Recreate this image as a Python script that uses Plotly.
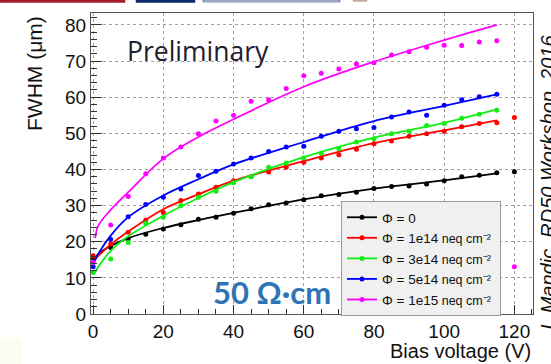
import plotly.graph_objects as go

# ---------------- data ----------------
volts = [0, 5, 10, 15, 20, 25, 30, 35, 40, 45, 50, 55, 60, 65, 70, 75,
         80, 85, 90, 95, 100, 105, 110, 115]

fwhm_phi0 = [15.6, 18.4, 20.8, 22.1, 23.5, 24.7, 26.2, 26.8, 27.9, 29.1, 30.2, 30.7,
             31.6, 32.7, 33.1, 33.7, 34.7, 35.3, 35.4, 36.0, 36.9, 38.0, 38.4, 39.1]
fwhm_1e14 = [16.1, 19.4, 22.6, 26.0, 28.1, 31.4, 33.2, 35.1, 36.9, 38.0, 39.3, 40.6,
             42.0, 43.2, 44.1, 45.6, 47.1, 47.9, 49.2, 49.9, 50.6, 51.8, 52.7, 52.9]
fwhm_3e14 = [11.5, 15.2, 19.8, 25.1, 26.8, 30.0, 32.3, 34.0, 36.3, 38.0, 40.6, 41.8,
             43.2, 44.5, 45.7, 47.6, 48.5, 49.9, 50.6, 52.2, 52.7, 54.2, 55.3, 56.4]
fwhm_5e14 = [13.1, 20.7, 26.9, 30.3, 32.3, 34.6, 38.3, 39.5, 41.5, 43.2, 45.0, 46.2,
             46.4, 49.2, 50.6, 51.3, 51.6, 54.5, 55.9, 55.0, 57.8, 59.3, 60.1, 60.8]
fwhm_1e15 = [14.3, 24.6, 32.5, 38.8, 43.2, 46.2, 49.9, 53.4, 55.0, 58.9, 59.3, 62.4,
             65.9, 66.6, 67.8, 69.2, 69.5, 71.7, 72.6, 73.8, 74.4, 74.3, 75.3, 75.6]

# extra points at 120 V
extra_v = [120]
extra_phi0 = [39.4]
extra_1e14 = [54.4]
extra_1e15 = [13.1]

# fit curves
fit_v = [0.5, 2, 5, 10, 20, 30, 40, 60, 80, 100, 115]
fit_phi0 = [15.5, 17.0, 18.8, 21.0, 23.8, 26.0, 28.0, 31.7, 34.7, 37.0, 38.9]
fit_1e14 = [15.3, 16.6, 19.2, 22.8, 29.0, 33.1, 36.9, 42.3, 47.3, 50.8, 53.6]
fit_3e14 = [11.5, 13.8, 17.5, 21.5, 27.2, 32.1, 36.5, 43.4, 48.8, 52.9, 56.6]
fit_5e14 = [14.7, 17.5, 21.7, 26.8, 32.8, 37.3, 41.4, 47.6, 53.4, 57.6, 60.8]
fit_v_1e15 = [0.6, 1.5, 5, 10, 20, 30, 40, 60, 80, 100, 115]
fit_1e15 = [21.0, 24.5, 28.8, 33.7, 43.0, 49.0, 53.9, 62.9, 69.8, 75.8, 80.0]

labels = ["Φ = 0",
          "Φ = 1e14<span style='font-size:12.5px'> neq cm⁻²</span>&nbsp;",
          "Φ = 3e14<span style='font-size:12.5px'> neq cm⁻²</span>&nbsp;",
          "Φ = 5e14<span style='font-size:12.5px'> neq cm⁻²</span>&nbsp;",
          "Φ = 1e15<span style='font-size:12.5px'> neq cm⁻²</span>&nbsp;"]
colors = ["#000000", "#ff0000", "#11ee11", "#0000ff", "#ff00ff"]

x_ticks = [0, 20, 40, 60, 80, 100, 120]
y_ticks = [0, 10, 20, 30, 40, 50, 60, 70, 80]

# ---------------- figure ----------------
W, H = 551, 364
L, R, T, B = 91, 533, 13, 314


def pxx(x):
    return (x - L) / (R - L)


def pxy(y):
    return (B - y) / (B - T)


series = [
    (volts, fwhm_phi0, extra_v, extra_phi0, fit_v, fit_phi0),
    (volts, fwhm_1e14, extra_v, extra_1e14, fit_v, fit_1e14),
    (volts, fwhm_3e14, [], [], fit_v, fit_3e14),
    (volts, fwhm_5e14, [], [], fit_v, fit_5e14),
    (volts, fwhm_1e15, extra_v, extra_1e15, fit_v_1e15, fit_1e15),
]

fig = go.Figure()
for (vx, vy, ex, ey, fx, fy), col in zip(series, colors):
    fig.add_trace(go.Scatter(x=fx, y=fy, mode="lines", line=dict(color=col, width=1.8, shape="spline"),
                             showlegend=False, hoverinfo="skip"))
    fig.add_trace(go.Scatter(x=list(vx) + list(ex), y=list(vy) + list(ey), mode="markers",
                             marker=dict(color=col, size=5), showlegend=False))

for lab, col in zip(labels, colors):
    fig.add_trace(go.Scatter(x=[None], y=[None], mode="lines+markers", name=lab,
                             line=dict(color=col, width=1.8), marker=dict(color=col, size=5)))

font_fam = "Liberation Sans, Arial, sans-serif"
axis_common = dict(showline=True, mirror=True, linecolor="#555555", linewidth=1.2,
                   ticks="inside", tickcolor="#333333", showgrid=True, gridcolor="#a0a0a0",
                   griddash="dot", gridwidth=1, zeroline=False, automargin=False,
                   tickfont=dict(family=font_fam, size=19, color="#111111"))

fig.update_layout(
    width=W, height=H,
    margin=dict(l=L, r=W - R, t=T, b=H - B, pad=0),
    paper_bgcolor="white", plot_bgcolor="white",
    xaxis=dict(range=[-0.6, 125.3], tickvals=x_ticks, ticklen=9, tickwidth=1,
               minor=dict(dtick=5, ticklen=5, ticks="inside", tickcolor="#333333", showgrid=False),
               **axis_common),
    yaxis=dict(range=[0, 83.3], tickvals=y_ticks, ticklen=11, tickwidth=1,
               minor=dict(dtick=2, ticklen=6, ticks="inside", tickcolor="#333333", showgrid=False),
               **axis_common),
    legend=dict(x=pxx(341), y=pxy(201), xanchor="left", yanchor="top",
                bgcolor="#f0f0f0", bordercolor="#999999", borderwidth=1,
                font=dict(family=font_fam, size=13.5, color="#111111"),
                tracegroupgap=0),
    showlegend=True,
)

annos = [
    dict(text="FWHM (μm)", x=pxx(34), y=pxy(73), textangle=-90,
         font=dict(family=font_fam, size=21, color="#111111")),
    dict(text="Bias voltage (V)", x=pxx(533), y=pxy(351), xanchor="right",
         font=dict(family=font_fam, size=20, color="#111111")),
    dict(text="Preliminary", x=pxx(125), y=pxy(51), xanchor="left",
         font=dict(family="Open Sans, sans-serif", size=26.5, color="#20202e")),
    dict(text="<b>50 Ω·cm</b>", x=pxx(211), y=pxy(292), xanchor="left",
         font=dict(family="Lato, sans-serif", size=31, color="#2e74b5")),
    dict(text="<i>I. Mandic, RD50 Workshop, 2016</i>", x=pxx(548), y=pxy(183), textangle=-90,
         font=dict(family="Liberation Sans, Arial, sans-serif", size=20, color="#111111")),
]
for a in annos:
    a.update(xref="paper", yref="paper", showarrow=False)
    a.setdefault("xanchor", "center")
    a.setdefault("yanchor", "middle")
fig.update_layout(annotations=annos)

# slide decorations at the top edge and bottom-left
deco = [
    (0, 0, 125, 2.5, "#a51c30", "#a51c30"),
    (136, 0, 195, 2.5, "#0d2a6b", "#0d2a6b"),
    (203, 0, 340, 2.0, "#c9d1e6", "#0d2a6b"),
    (353, 0, 367, 1.5, "#c9a9a5", "#c9a9a5"),
    (0, 338, 22, 364, "#fcfcf3", "#fcfcf3"),
]
shapes = []
for x0, y0, x1, y1, fc, lc in deco:
    shapes.append(dict(type="rect", xref="paper", yref="paper",
                       x0=pxx(x0), x1=pxx(x1), y0=pxy(y0), y1=pxy(y1),
                       fillcolor=fc, line=dict(color=lc, width=0.5), layer="above"))
fig.update_layout(shapes=shapes)

fig.write_html("out.html", config={"displayModeBar": False},
               post_script="document.body.style.margin='0px';document.body.style.padding='0px';")
